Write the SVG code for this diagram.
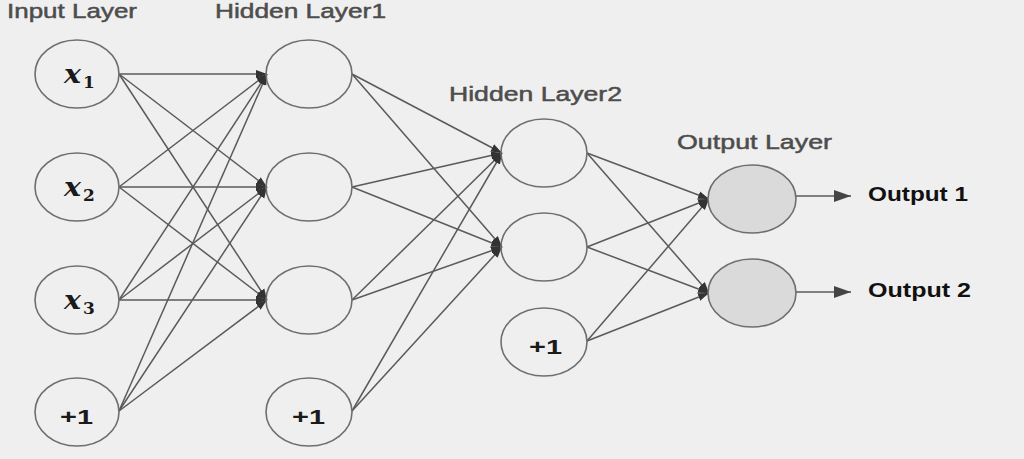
<svg xmlns="http://www.w3.org/2000/svg" width="1024" height="459" viewBox="0 0 1024 459">
<defs>
<style>
.bg{fill:#efefef}
.node{fill:none;stroke:#6e6e6e;stroke-width:1.6}
.out{fill:#dadada;stroke:#6e6e6e;stroke-width:1.6}
.edge{stroke:#5a5a5a;stroke-width:1.5;fill:none}
.title{font-family:"Liberation Sans",Arial,sans-serif;font-size:21px;fill:#4d4d4d;stroke:#4d4d4d;stroke-width:0.5}
.olab{font-family:"Liberation Sans",Arial,sans-serif;font-size:20px;font-weight:bold;fill:#111}
.bias{font-family:"Liberation Sans",Arial,sans-serif;font-size:21px;font-weight:bold;fill:#1a1a1a}
.xv{font-family:"DejaVu Serif","Liberation Serif",serif;font-style:italic;font-weight:bold;font-size:26px;fill:#1a1a1a}
.sub{font-family:"DejaVu Serif","Liberation Serif",serif;font-weight:bold;font-size:17px;fill:#1a1a1a}
</style>
<marker id="ah" markerUnits="userSpaceOnUse" markerWidth="12" markerHeight="10" refX="11" refY="5" orient="auto">
<path d="M0,1 L11,5 L0,9 Z" fill="#333"/>
</marker>
<marker id="ah2" markerUnits="userSpaceOnUse" markerWidth="18" markerHeight="14" refX="17" refY="7" orient="auto">
<path d="M0,1 L17,7 L0,13 Z" fill="#444"/>
</marker>
</defs>
<rect class="bg" x="0" y="0" width="1024" height="459"/>

<g id="titles">
<text class="title" x="7" y="18" textLength="130" lengthAdjust="spacingAndGlyphs">Input Layer</text>
<text class="title" x="215" y="18" textLength="171" lengthAdjust="spacingAndGlyphs">Hidden Layer1</text>
<text class="title" x="449" y="101" textLength="173" lengthAdjust="spacingAndGlyphs">Hidden Layer2</text>
<text class="title" x="677" y="149" textLength="155" lengthAdjust="spacingAndGlyphs">Output Layer</text>
</g>

<g id="connectors">
<!-- input -> hidden1 -->
<line class="edge" x1="119" y1="74" x2="267" y2="74" marker-end="url(#ah)"/>
<line class="edge" x1="119" y1="74" x2="267" y2="187" marker-end="url(#ah)"/>
<line class="edge" x1="119" y1="74" x2="267" y2="300" marker-end="url(#ah)"/>
<line class="edge" x1="119" y1="187" x2="267" y2="74" marker-end="url(#ah)"/>
<line class="edge" x1="119" y1="187" x2="267" y2="187" marker-end="url(#ah)"/>
<line class="edge" x1="119" y1="187" x2="267" y2="300" marker-end="url(#ah)"/>
<line class="edge" x1="119" y1="300" x2="267" y2="74" marker-end="url(#ah)"/>
<line class="edge" x1="119" y1="300" x2="267" y2="187" marker-end="url(#ah)"/>
<line class="edge" x1="119" y1="300" x2="267" y2="300" marker-end="url(#ah)"/>
<line class="edge" x1="119" y1="411" x2="267" y2="74" marker-end="url(#ah)"/>
<line class="edge" x1="119" y1="411" x2="267" y2="187" marker-end="url(#ah)"/>
<line class="edge" x1="119" y1="411" x2="267" y2="300" marker-end="url(#ah)"/>
<!-- hidden1 -> hidden2 -->
<line class="edge" x1="352" y1="74" x2="502" y2="153" marker-end="url(#ah)"/>
<line class="edge" x1="352" y1="74" x2="502" y2="247" marker-end="url(#ah)"/>
<line class="edge" x1="352" y1="187" x2="502" y2="153" marker-end="url(#ah)"/>
<line class="edge" x1="352" y1="187" x2="502" y2="247" marker-end="url(#ah)"/>
<line class="edge" x1="352" y1="300" x2="502" y2="153" marker-end="url(#ah)"/>
<line class="edge" x1="352" y1="300" x2="502" y2="247" marker-end="url(#ah)"/>
<line class="edge" x1="352" y1="411" x2="502" y2="153" marker-end="url(#ah)"/>
<line class="edge" x1="352" y1="411" x2="502" y2="247" marker-end="url(#ah)"/>
<!-- hidden2 -> output -->
<line class="edge" x1="587" y1="153" x2="709" y2="199" marker-end="url(#ah)"/>
<line class="edge" x1="587" y1="153" x2="709" y2="293" marker-end="url(#ah)"/>
<line class="edge" x1="587" y1="247" x2="709" y2="199" marker-end="url(#ah)"/>
<line class="edge" x1="587" y1="247" x2="709" y2="293" marker-end="url(#ah)"/>
<line class="edge" x1="587" y1="341" x2="709" y2="199" marker-end="url(#ah)"/>
<line class="edge" x1="587" y1="341" x2="709" y2="293" marker-end="url(#ah)"/>
<!-- outputs -->
<line class="edge" x1="796" y1="196" x2="851" y2="196" marker-end="url(#ah2)"/>
<line class="edge" x1="796" y1="292" x2="851" y2="292" marker-end="url(#ah2)"/>
</g>

<g id="in1"><ellipse class="node" cx="77" cy="74" rx="42" ry="34"/>
<text class="xv" x="64" y="83" textLength="17" lengthAdjust="spacingAndGlyphs">x</text><text class="sub" x="83" y="88">1</text></g>
<g id="in2"><ellipse class="node" cx="77" cy="187" rx="42" ry="34"/>
<text class="xv" x="64" y="196" textLength="17" lengthAdjust="spacingAndGlyphs">x</text><text class="sub" x="83" y="201">2</text></g>
<g id="in3"><ellipse class="node" cx="77" cy="300" rx="42" ry="34"/>
<text class="xv" x="64" y="309" textLength="17" lengthAdjust="spacingAndGlyphs">x</text><text class="sub" x="83" y="314">3</text></g>
<g id="inb"><ellipse class="node" cx="77" cy="412" rx="42" ry="34"/>
<text class="bias" x="60" y="424" textLength="33" lengthAdjust="spacingAndGlyphs">+1</text></g>

<g id="h1a"><ellipse class="node" cx="309" cy="74" rx="43" ry="34"/></g>
<g id="h1b"><ellipse class="node" cx="309" cy="187" rx="43" ry="34"/></g>
<g id="h1c"><ellipse class="node" cx="309" cy="300" rx="43" ry="34"/></g>
<g id="h1bias"><ellipse class="node" cx="309" cy="412" rx="43" ry="34"/>
<text class="bias" x="292" y="424" textLength="33" lengthAdjust="spacingAndGlyphs">+1</text></g>

<g id="h2a"><ellipse class="node" cx="544" cy="153" rx="43" ry="34"/></g>
<g id="h2b"><ellipse class="node" cx="544" cy="247" rx="43" ry="34"/></g>
<g id="h2bias"><ellipse class="node" cx="544" cy="342" rx="43" ry="34"/>
<text class="bias" x="529" y="354" textLength="33" lengthAdjust="spacingAndGlyphs">+1</text></g>

<g id="o1"><ellipse class="out" cx="752" cy="199" rx="44" ry="34"/></g>
<g id="o2"><ellipse class="out" cx="752" cy="293" rx="44" ry="34"/></g>

<g id="olabels">
<text class="olab" x="868" y="201" textLength="100" lengthAdjust="spacingAndGlyphs">Output 1</text>
<text class="olab" x="868" y="297" textLength="103" lengthAdjust="spacingAndGlyphs">Output 2</text>
</g>
</svg>
